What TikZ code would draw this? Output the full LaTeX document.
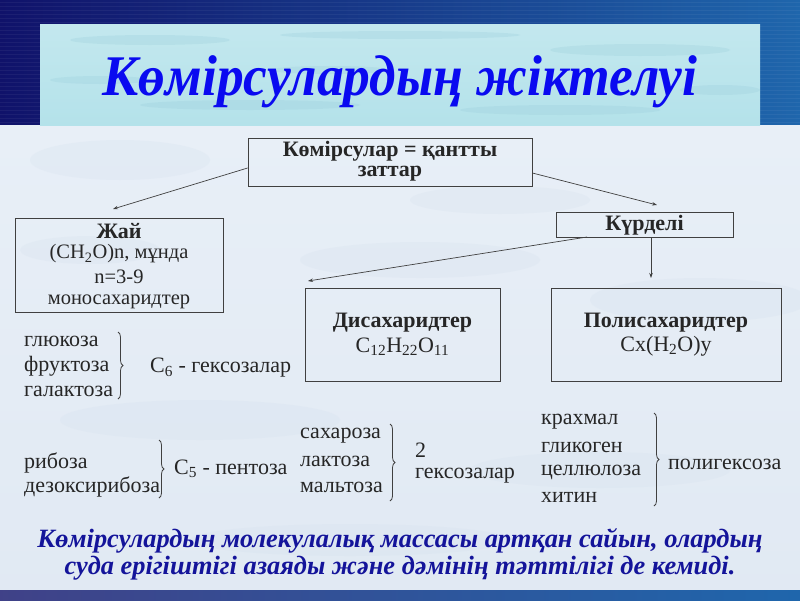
\documentclass[tikz,border=0pt]{standalone}
\usepackage{fontspec}
\setmainfont{Liberation Serif}
\usetikzlibrary{decorations.pathreplacing,arrows.meta}
\definecolor{navy}{HTML}{10126A}
\definecolor{bandright}{HTML}{1F66AC}
\definecolor{water}{HTML}{B4E2EA}
\definecolor{waterdark}{HTML}{9CCFDC}
\definecolor{pale}{HTML}{E8EFF7}
\definecolor{paledark}{HTML}{D4E0EE}
\definecolor{titleblue}{HTML}{0A0AF0}
\definecolor{textblue}{HTML}{14149A}
\tikzset{
  box/.style={draw=black!75, line width=0.8pt, inner sep=0pt},
  txt/.style={font=\fontsize{22}{26}\selectfont, text=black!85, inner sep=0pt, anchor=west},
  ctxt/.style={font=\fontsize{22}{26}\selectfont, text=black!85, inner sep=0pt, align=center},
  stxt/.style={font=\fontsize{20.5}{24}\selectfont, text=black!85, inner sep=0pt, align=center},
  btxt/.style={font=\fontsize{22}{26}\selectfont\bfseries, text=black!85, inner sep=0pt, align=center},
  arr/.style={draw=black!75, line width=0.7pt, -{Stealth[length=5pt,width=3.5pt]}},
  brc/.style={draw=black!75, line width=0.8pt, decorate, decoration={brace, amplitude=5pt}},
}
\begin{document}
\begin{tikzpicture}[x=1pt,y=-1pt]
\useasboundingbox (0,0) rectangle (800,600);
% backgrounds
\shade[left color=navy, right color=bandright] (0,0) rectangle (800,125);
\foreach \yy in {2,6,...,124} {\draw[white, opacity=0.05, line width=1pt] (0,\yy) -- (800,\yy);}
\shade[top color=pale, bottom color=paledark!70] (0,125) rectangle (800,590);
\foreach \cx/\cy/\rx/\ry in {120/160/90/20, 420/260/120/18, 700/300/110/22, 200/420/140/20, 600/470/130/18, 350/540/160/16, 90/250/70/14, 500/200/90/14}
  {\fill[paledark, opacity=0.25] (\cx,\cy) ellipse [x radius=\rx, y radius=\ry];}
\shade[left color=navy!80, right color=bandright] (0,590) rectangle (800,600);
\shade[top color=water!80, bottom color=water] (40,24) rectangle (760,125);
\foreach \cx/\cy/\rx/\ry in {150/40/80/5, 400/35/120/4, 640/50/90/6, 250/105/110/5, 560/110/100/5, 100/80/50/4, 720/90/40/5, 330/70/60/4}
  {\fill[waterdark, opacity=0.3] (\cx,\cy) ellipse [x radius=\rx, y radius=\ry];}
% title
\node[inner sep=0pt, text=titleblue] (title) at (400,82)
  {\scalebox{1.07}[1.15]{\fontsize{50}{56}\selectfont\bfseries\itshape Көмірсулардың жіктелуі}};
% boxes
\node[box, minimum width=284pt, minimum height=48pt] (top) at (390,162) {};
\node[btxt] at (390,151) {Көмірсулар = қантты};
\node[btxt] at (390,174) {заттар};
\node[box, minimum width=208pt, minimum height=94pt] (jai) at (119,265) {};
\node[btxt] at (119,231) {Жай};
\node[stxt] at (119,254) {(CH\textsubscript{2}O)n, мұнда};
\node[stxt] at (119,277) {n=3-9};
\node[stxt] at (119,302) {моносахаридтер};
\node[box, minimum width=177pt, minimum height=25pt] (kurd) at (644.5,224.5) {};
\node[btxt] at (644.5,225) {Күрделі};
\node[box, minimum width=195pt, minimum height=93pt] (dis) at (402.5,334.5) {};
\node[btxt] at (402.5,323) {Дисахаридтер};
\node[ctxt] at (402.5,347) {C\textsubscript{12}H\textsubscript{22}O\textsubscript{11}};
\node[box, minimum width=230pt, minimum height=93pt] (poly) at (666,334.5) {};
\node[btxt] at (666,323) {Полисахаридтер};
\node[ctxt] at (666,346) {Cx(H\textsubscript{2}O)y};
% arrows
\coordinate (a1) at (113,209);
\coordinate (a2) at (657,205);
\coordinate (a3) at (308,281);
\coordinate (a4) at (651,278);
\draw[arr] (top.west |- 0,168) -- (a1);
\draw[arr] (top.east |- 0,173) -- (a2);
\draw[arr] (587,237) -- (a3);
\draw[arr] (651,237) -- (a4);
% monosaccharides C6
\node[txt] (g1) at (24,341) {глюкоза};
\node[txt] (g2) at (24,366) {фруктоза};
\node[txt] (g3) at (24,391) {галактоза};
\draw[brc] (118,332) -- (118,399);
\node[txt] (c6) at (150,368) {C\textsubscript{6} - гексозалар};
% C5
\node[txt] (r1) at (24,463) {рибоза};
\node[txt] (r2) at (24,487) {дезоксирибоза};
\draw[brc] (159,440) -- (159,498);
\node[txt] (c5) at (174,469) {C\textsubscript{5} - пентоза};
% disaccharides
\node[txt] (s1) at (300,436) {сахароза};
\node[txt] (s2) at (300,461) {лактоза};
\node[txt] (s3) at (300,487) {мальтоза};
\draw[brc] (390,424) -- (390,501);
\node[txt] (two) at (415,450) {2};
\node[txt] (hex) at (415,476) {гексозалар};
% polysaccharides
\node[txt] (p1) at (541,422) {крахмал};
\node[txt] (p2) at (541,447) {гликоген};
\node[txt] (p3) at (541,472) {целлюлоза};
\node[txt] (p4) at (541,497) {хитин};
\draw[brc] (654,413) -- (654,506);
\node[txt] (phex) at (668,464) {полигексоза};
% bottom text
\node[inner sep=0pt, text=textblue, align=center] (bottom) at (400,555)
  {\scalebox{1.10}[1.1]{\fontsize{24}{28}\selectfont\bfseries\itshape\begin{tabular}{c}Көмірсулардың молекулалық массасы артқан сайын, олардың\\[-3pt] суда ерігіштігі азаяды және дәмінің тәттілігі де кемиді.\end{tabular}}};
\end{tikzpicture}
\end{document}
